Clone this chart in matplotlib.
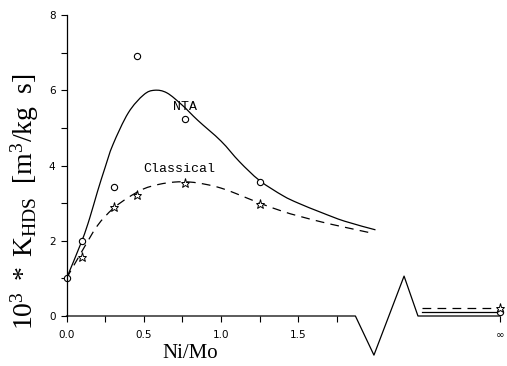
import matplotlib
matplotlib.use("Agg")
import matplotlib.pyplot as plt
from matplotlib.path import Path
from matplotlib.patches import PathPatch
import numpy as np

plt.rcParams["mathtext.fontset"] = "custom"
plt.rcParams["mathtext.rm"] = "Liberation Serif"
plt.rcParams["mathtext.it"] = "Liberation Serif:italic"

# Measured rate constants (symbols) and model curves (lines)
ni_mo_pts = [0.0, 0.10, 0.31, 0.456, 0.77, 1.25]
k_measured = [1.0, 2.0, 3.42, 6.91, 5.24, 3.57]

ni_mo_cls = [0.10, 0.31, 0.456, 0.77, 1.25]
k_classical_pts = [1.58, 2.89, 3.22, 3.54, 2.98]

ni_mo_curve = [0.0, 0.10, 0.15, 0.20, 0.25, 0.30, 0.40, 0.50, 0.57, 0.65, 0.75,
               0.85, 1.00, 1.12, 1.25, 1.40, 1.50, 1.65, 1.80, 2.00]
k_nta = [1.0, 2.0, 2.6, 3.3, 3.95, 4.55, 5.4, 5.88, 6.0, 5.93, 5.6,
         5.2, 4.65, 4.1, 3.6, 3.2, 3.0, 2.75, 2.52, 2.29]

ni_mo_curve_cls = [0.0, 0.10, 0.20, 0.30, 0.40, 0.50, 0.60, 0.70, 0.80, 0.90,
                   1.00, 1.10, 1.25, 1.40, 1.50, 1.65, 1.80, 1.98]
k_classical = [1.0, 1.72, 2.4, 2.85, 3.15, 3.38, 3.5, 3.56, 3.56, 3.5,
               3.4, 3.25, 3.0, 2.78, 2.66, 2.5, 2.36, 2.2]

# Values at Ni/Mo -> infinity
k_nta_inf = 0.10
k_classical_inf = 0.22

x_tick_vals = [0.0, 0.5, 1.0, 1.5]
x_tick_labels = ["0.0", "0.5", "1.0", "1.5"]
y_tick_vals = [0, 2, 4, 6, 8]

# Axis-break layout (data units)
x_inf = 2.806
break_start, break_low, break_high, break_end = 1.87, 1.99, 2.185, 2.275
inf_line_start = 2.30


def smooth_path(xs, ys):
    """Bezier path through the given points (Catmull-Rom tangents)."""
    p = np.column_stack([xs, ys]).astype(float)
    verts = [p[0]]
    codes = [Path.MOVETO]
    n = len(p)
    for i in range(n - 1):
        p0 = p[i - 1] if i > 0 else p[i]
        p1, p2 = p[i], p[i + 1]
        p3 = p[i + 2] if i + 2 < n else p[i + 1]
        c1 = p1 + (p2 - p0) / 6.0
        c2 = p2 - (p3 - p1) / 6.0
        verts += [c1, c2, p2]
        codes += [Path.CURVE4] * 3
    return Path(verts, codes)


W, H = 507, 366
fig = plt.figure(figsize=(W / 100, H / 100), dpi=100)
ax = fig.add_axes([66.5 / W, 50 / H, (500 - 66.5) / W, 301 / H])
ax.set_xlim(0, x_inf)
ax.set_ylim(0, 8)

for s in ("top", "right", "bottom"):
    ax.spines[s].set_visible(False)
ax.spines["left"].set_linewidth(0.9)

# broken x axis
ax.plot([0, break_start, break_low, break_high, break_end, x_inf],
        [0, 0, -1.04, 1.06, 0, 0], color="black", lw=0.9, clip_on=False)

ax.add_patch(PathPatch(smooth_path(ni_mo_curve, k_nta), fc="none",
                       ec="black", lw=0.9))
ax.add_patch(PathPatch(smooth_path(ni_mo_curve_cls, k_classical), fc="none",
                       ec="black", lw=0.9, linestyle=(0, (7, 5))))
ax.plot([inf_line_start, x_inf], [k_nta_inf, k_nta_inf], color="black", lw=0.9)
ax.plot([inf_line_start, x_inf], [k_classical_inf, k_classical_inf],
        color="black", lw=0.9, dashes=(7, 5))

ax.plot(ni_mo_pts + [x_inf], k_measured + [k_nta_inf], ls="none", marker="o",
        ms=4.5, mfc="white", mec="black", mew=0.8, clip_on=False)
ax.plot(ni_mo_cls + [x_inf], k_classical_pts + [k_classical_inf], ls="none",
        marker="*", ms=6.5, mfc="white", mec="black", mew=0.7, clip_on=False)

tick_font = dict(family="DejaVu Sans", size=7.5)
ax.set_xticks(x_tick_vals + [x_inf])
ax.set_xticklabels(x_tick_labels + ["\u221e"], **tick_font)
ax.set_xticks([0.25, 0.75, 1.25, 1.75], minor=True)
ax.set_yticks(y_tick_vals)
ax.set_yticklabels([str(v) for v in y_tick_vals], **tick_font)
ax.set_yticks([1, 3, 5, 7], minor=True)
ax.tick_params(axis="both", which="both", direction="out", length=4,
               width=0.8, color="black")
ax.tick_params(axis="x", pad=6)
ax.tick_params(axis="y", pad=4)

fig.text(25 / W, 1 - 202 / H,
         r"$\mathrm{10^3\ *\ K_{HDS}\ \ [m^3/kg\ \ s]}$",
         fontsize=20, rotation=90, ha="center", va="center")
fig.text(190 / W, 1 - 354 / H, "Ni/Mo", family="Liberation Serif",
         fontsize=15, ha="center", va="center")

ax.text(0.69, 5.56, "NTA", family="Liberation Mono", fontsize=9.5,
        ha="left", va="center")
ax.text(0.495, 3.9, "Classical", family="Liberation Mono", fontsize=9.5,
        ha="left", va="center")

fig.savefig("out.png", dpi=100)
